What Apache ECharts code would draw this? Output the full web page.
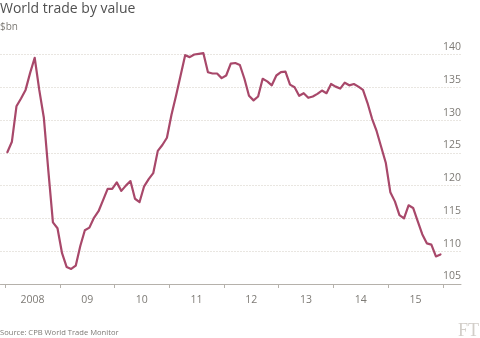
<!DOCTYPE html>
<html>
<head>
<meta charset="utf-8">
<script src="https://cdn.jsdelivr.net/npm/echarts@6/dist/echarts.min.js"></script>
<style>html,body{margin:0;padding:0;background:#fff;}#c{width:480px;height:338px;}</style>
</head>
<body>
<div id="c"></div>
<script>
// Monthly world trade, $bn, Jan 2008 - Dec 2015
const values = [
  125.1, 126.7, 132.1, 133.3, 134.6, 137.2, 139.5, 134.6, 130.4, 122.2, 114.4, 113.5,
  109.7, 107.6, 107.3, 107.8, 110.8, 113.2, 113.6, 115.1, 116.1, 117.8, 119.5, 119.5,
  120.5, 119.2, 120.0, 120.7, 118.0, 117.5, 119.9, 121.0, 121.9, 125.3, 126.2, 127.3,
  130.8, 133.7, 136.8, 139.9, 139.6, 140.0, 140.1, 140.2, 137.3, 137.1, 137.1, 136.4,
  136.8, 138.6, 138.7, 138.4, 136.3, 133.7, 133.0, 133.6, 136.3, 135.9, 135.3, 136.8,
  137.3, 137.4, 135.4, 135.0, 133.7, 134.1, 133.4, 133.6, 134.0, 134.5, 134.1, 135.5,
  135.1, 134.8, 135.7, 135.3, 135.5, 135.1, 134.6, 132.6, 130.2, 128.3, 125.9, 123.5,
  119.0, 117.6, 115.5, 115.0, 117.0, 116.6, 114.6, 112.6, 111.2, 111.0, 109.2, 109.5
];
const yearLabels = ['2008', '09', '10', '11', '12', '13', '14', '15'];
const yearStarts = [0, 12, 24, 36, 48, 60, 72, 84, 96];   // month index of each January
const yearMids = [6, 18, 30, 42, 54, 66, 78, 90];

const seriesData = values.map((v, i) => [i + 0.5, v]);

const chart = echarts.init(document.getElementById('c'), null, {renderer: 'canvas'});
const grey = '#7d7a75';
chart.setOption({
  animation: false,
  title: [
    {text: 'World trade by value', left: -5, top: -3,
     textStyle: {fontFamily: 'Open Sans', fontSize: 14, fontWeight: 'normal', color: '#505050'}},
    {text: '$bn', left: -5, top: 17,
     textStyle: {fontFamily: 'Open Sans', fontSize: 10, fontWeight: 'normal', color: grey}},
    {text: 'Source: CPB World Trade Monitor', left: -5, top: 324,
     textStyle: {fontFamily: 'Open Sans', fontSize: 7.6, fontWeight: 'normal', color: grey}},
    {text: 'FT', right: -4, top: 317,
     textStyle: {fontFamily: 'Liberation Serif', fontSize: 18, fontWeight: 'normal', color: '#d2cec9'}}
  ],
  grid: {left: 0.5, right: 19, top: 54.5, bottom: 54, containLabel: false},
  xAxis: {
    type: 'value', min: -1, max: 100,
    axisLine: {show: true, lineStyle: {color: '#b5b1ab', width: 1}},
    axisTick: {show: true, customValues: yearStarts, length: 4, lineStyle: {color: '#b5b1ab'}},
    axisLabel: {
      customValues: yearMids, margin: 11,
      formatter: v => yearLabels[yearMids.indexOf(v)] || '',
      fontFamily: 'Open Sans', fontSize: 10.5, color: grey
    },
    splitLine: {show: false}
  },
  yAxis: {
    type: 'value', position: 'right', min: 105, max: 140, interval: 5,
    axisLine: {show: false}, axisTick: {show: false},
    axisLabel: {inside: true, margin: 0, verticalAlign: 'bottom', padding: [0, 0, 2, 0],
      fontFamily: 'Open Sans', fontSize: 10.5, color: grey},
    splitLine: {show: true, lineStyle: {color: '#d3cdc2', type: [1, 2], width: 1}}
  },
  series: [{
    type: 'line', data: seriesData, showSymbol: false, clip: false,
    lineStyle: {color: '#a8486a', width: 2.2, join: 'round', cap: 'round'}
  }]
});
</script>
</body>
</html>
